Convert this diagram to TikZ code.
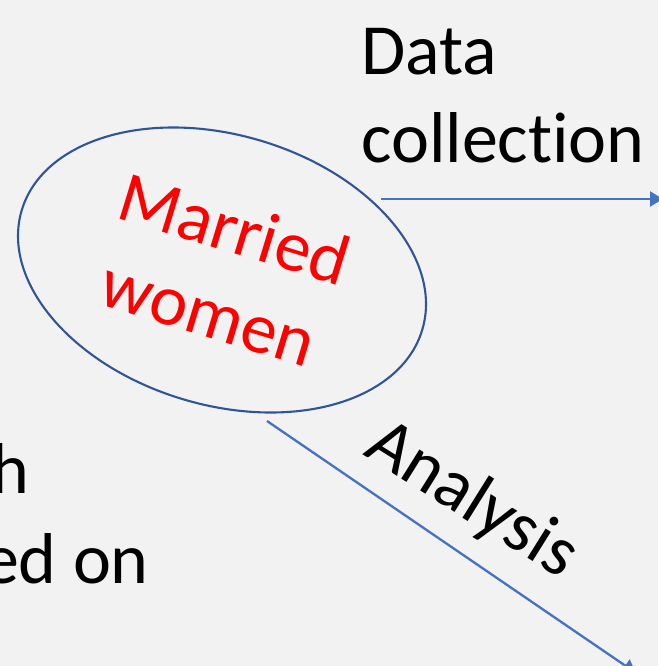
\documentclass[tikz,border=0pt]{standalone}
\usepackage{fontspec}
\setmainfont{Carlito}[RawFeature={-liga,-clig,-dlig}]
\usetikzlibrary{shapes.geometric,arrows.meta}
\definecolor{bg}{HTML}{F2F2F2}
\definecolor{ringblue}{HTML}{2F5597}
\definecolor{arrowblue}{HTML}{4472C4}
\begin{document}
\begin{tikzpicture}[x=1pt,y=-1pt,
  bigtext/.style={inner sep=0pt,font=\fontsize{72}{88}\selectfont,text=black},
  ring/.style={ellipse,draw=ringblue,line width=2.1pt,inner sep=0pt},
  flow/.style={draw=arrowblue,line width=2.3pt,-{Triangle[length=13pt,width=15pt]}}]
\fill[bg] (0,0) rectangle (658,666);
\useasboundingbox (0,0) rectangle (658,666);
% ellipse
\node[ring,minimum width=418pt,minimum height=270pt,rotate=-16.6] (mw) at (222,270) {};
\node[bigtext,text=red,align=center,rotate=-17] (mwt) at (222,270) {Married\\women};
% data collection
\node[bigtext,align=left,anchor=base west] (dc) at (361,162) {Data\\collection};
\coordinate (dcs) at (381,199);
\coordinate (dce) at (663,199);
\draw[flow] (dcs) -- (dce);
% analysis
\coordinate (ans) at (267,421);
\coordinate (ane) at (636,673);
\draw[flow] (ans) -- (ane);
\node[bigtext,anchor=base,rotate=-32] (an) at (462,517) {Analysis};
% cut-off text on the left
\node[bigtext,anchor=base east] (lh) at (30,493) {h};
\node[bigtext,anchor=base east] (led) at (149,583) {ed on};
\end{tikzpicture}
\end{document}
